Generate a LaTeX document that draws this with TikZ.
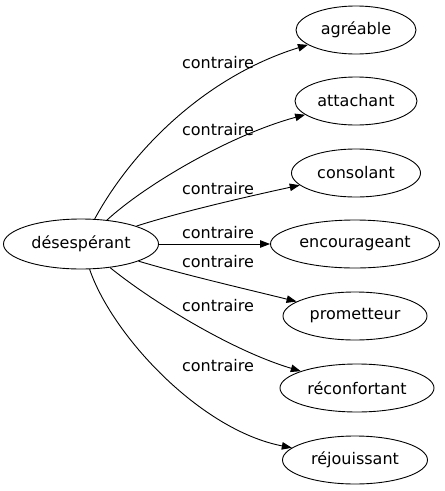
\documentclass[tikz,border=0pt]{standalone}
\usepackage{fontspec}
\setmainfont{DejaVu Sans}
\usetikzlibrary{shapes.geometric,arrows.meta}
\begin{document}
\begin{tikzpicture}[x=1pt,y=-1pt,
  word/.style={draw,ellipse,line width=0.9pt,inner sep=0pt,minimum height=48pt,font=\fontsize{16}{18}\selectfont},
  lab/.style={font=\fontsize{16}{18}\selectfont,inner sep=0pt},
  rel/.style={line width=0.9pt,-{Triangle[length=10pt,width=7.5pt]}}]
\useasboundingbox (0,0) rectangle (445,491);
\node[word,minimum width=155pt,minimum height=50pt] (s) at (81,244) {désespérant};
\node[word,minimum width=120pt] (t1) at (356,30) {agréable};
\node[word,minimum width=122pt] (t2) at (356,101) {attachant};
\node[word,minimum width=129pt] (t3) at (356,173) {consolant};
\node[word,minimum width=169pt] (t4) at (355,244) {encourageant};
\node[word,minimum width=144pt] (t5) at (355,316) {prometteur};
\node[word,minimum width=154pt] (t6) at (357,388) {réconfortant};
\node[word,minimum width=145pt] (t7) at (355,460) {réjouissant};
\draw[rel] (s) .. controls (135,145) and (210,75) .. (t1);
\draw[rel] (s) .. controls (145,185) and (230,135) .. (t2);
\draw[rel] (s) .. controls (180,212) and (250,196) .. (t3);
\draw[rel] (s) -- (t4);
\draw[rel] (s) .. controls (185,275) and (250,290) .. (t5);
\draw[rel] (s) .. controls (150,300) and (230,350) .. (t6);
\draw[rel] (s) .. controls (112,335) and (200,430) .. (t7);
\node[lab] (l1) at (218,63) {contraire};
\node[lab] (l2) at (218,130) {contraire};
\node[lab] (l3) at (218,189) {contraire};
\node[lab] (l4) at (218,233) {contraire};
\node[lab] (l5) at (218,262) {contraire};
\node[lab] (l6) at (218,306) {contraire};
\node[lab] (l7) at (218,366) {contraire};
\end{tikzpicture}
\end{document}
